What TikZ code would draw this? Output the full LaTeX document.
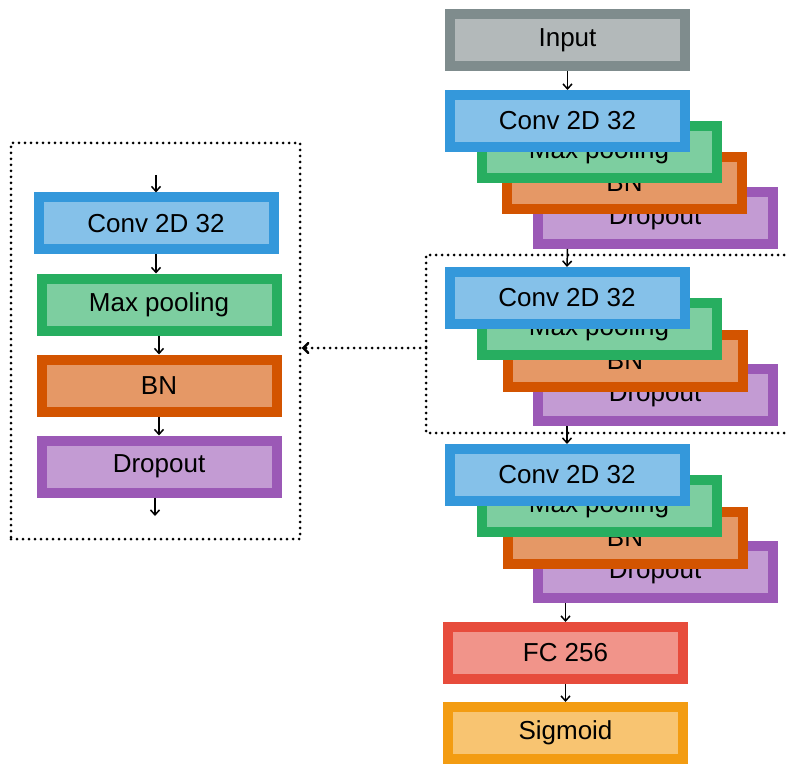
\documentclass[tikz,border=0pt]{standalone}
\usepackage{fontspec}
\setmainfont{Liberation Sans}
\usetikzlibrary{arrows.meta}
\definecolor{inB}{HTML}{7F8C8D}\definecolor{inF}{HTML}{B3B9BA}
\definecolor{cvB}{HTML}{3498DB}\definecolor{cvF}{HTML}{85C1E9}
\definecolor{mpB}{HTML}{27AE60}\definecolor{mpF}{HTML}{7DCEA0}
\definecolor{bnB}{HTML}{D35400}\definecolor{bnF}{HTML}{E59866}
\definecolor{doB}{HTML}{9B59B6}\definecolor{doF}{HTML}{C39BD3}
\definecolor{fcB}{HTML}{E74C3C}\definecolor{fcF}{HTML}{F1948A}
\definecolor{sgB}{HTML}{F39C12}\definecolor{sgF}{HTML}{F8C471}
\tikzset{
  layer/.style={rectangle, line width=10pt, minimum width=235pt, minimum height=52pt, inner sep=0pt, font=\fontsize{26}{30}\selectfont},
  inbox/.style={layer, draw=inB, fill=inF},
  cvbox/.style={layer, draw=cvB, fill=cvF},
  mpbox/.style={layer, draw=mpB, fill=mpF},
  bnbox/.style={layer, draw=bnB, fill=bnF},
  dobox/.style={layer, draw=doB, fill=doF},
  fcbox/.style={layer, draw=fcB, fill=fcF},
  sgbox/.style={layer, draw=sgB, fill=sgF},
  arr/.style={line width=1.5pt, -{Straight Barb[length=5pt,width=9pt]}},
  dots/.style={line width=3pt, line cap=round, dash pattern=on 0pt off 6pt},
}
\begin{document}
\begin{tikzpicture}[x=1pt,y=-1pt]
\useasboundingbox (0,0) rectangle (788,765);
% left panel frame
\node[dots, draw, rectangle, minimum width=289pt, minimum height=396pt, inner sep=0pt] (lframe) at (155.5,341) {};
% middle dotted region (three sides)
\draw[dots] (790,255) -- (426,255) -- (426,433) -- (790,433);
\coordinate (msrc) at (426,348);
% input
\node[inbox] (in) at (567.5,40.5) {Input};
% top stack
\node[dobox] (t4) at (655,218) {Dropout};
\node[bnbox] (t3) at (624.5,183) {BN};
\node[mpbox] (t2) at (599,152) {Max pooling};
\node[cvbox] (t1) at (567.5,121) {Conv 2D 32};
% middle stack
\node[dobox] (m4) at (655,395) {Dropout};
\node[bnbox] (m3) at (625,360.5) {BN};
\node[mpbox] (m2) at (599,329) {Max pooling};
\node[cvbox] (m1) at (567,298) {Conv 2D 32};
% bottom stack
\node[dobox] (b4) at (655,572) {Dropout};
\node[bnbox] (b3) at (625,537.5) {BN};
\node[mpbox] (b2) at (599,506) {Max pooling};
\node[cvbox] (b1) at (567,475) {Conv 2D 32};
% head
\node[fcbox] (fc) at (565.5,653) {FC 256};
\node[sgbox] (sg) at (565.5,733) {Sigmoid};
% left panel
\node[cvbox] (l1) at (156,223.5) {Conv 2D 32};
\node[mpbox] (l2) at (159,304.5) {Max pooling};
\node[bnbox] (l3) at (159,385.5) {BN};
\node[dobox] (l4) at (159,466.5) {Dropout};
\coordinate (lin) at (156,175);
\coordinate (lout) at (155,516);
% arrows
\draw[arr] (in) -- (t1);
\draw[arr] (t4.south -| t1.south) -- (m1.north);
\draw[arr] (m4.south -| m1.south) -- (b1.north);
\draw[arr] (b4.south -| fc.north) -- (fc.north);
\draw[arr] (fc) -- (sg);
\draw[arr] (lin) -- (l1.north);
\draw[arr] (l1.south) -- (l1.south |- l2.north);
\draw[arr] (l2) -- (l3);
\draw[arr] (l3) -- (l4);
\draw[arr] (l4.south -| lout) -- (lout);
\draw[dots, -{Straight Barb[length=5pt,width=10pt,line width=2.5pt,line cap=round]}] (msrc) -- (msrc -| lframe.east);
\end{tikzpicture}
\end{document}
